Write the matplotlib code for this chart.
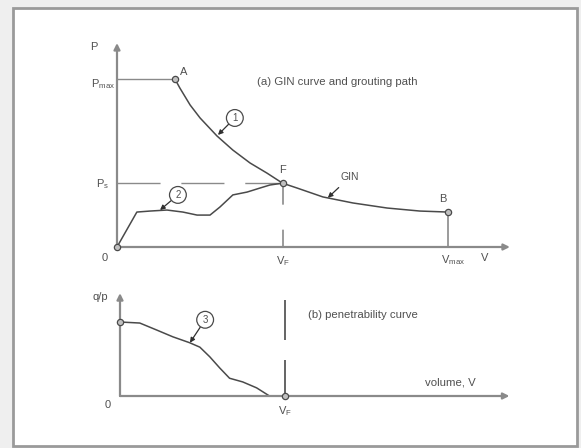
import matplotlib.pyplot as plt
from matplotlib.patches import Rectangle

plt.rcParams['font.family'] = ['Liberation Sans', 'DejaVu Sans']
plt.rcParams['mathtext.fontset'] = 'custom'
plt.rcParams['mathtext.rm'] = 'Liberation Sans'
plt.rcParams['mathtext.default'] = 'regular'

W, H = 581, 448

# (a) GIN curve: volume V vs pressure P (A -> F -> B)
gin_v = [1.75, 1.90, 2.21, 2.51, 3.02, 3.50, 4.02, 4.53, 5.00, 5.44, 6.22, 7.13, 8.16, 9.15, 10.0]
gin_p = [10.0, 9.46, 8.45, 7.68, 6.61, 5.77, 5.00, 4.40, 3.80, 3.51, 2.98, 2.62, 2.32, 2.14, 2.08]

# grouting path (curve 2), origin -> F
path_v = [0.0, 0.60, 1.00, 1.51, 1.99, 2.42, 2.81, 3.11, 3.50, 3.93, 4.32, 4.62, 5.00]
path_p = [0.0, 2.08, 2.14, 2.20, 2.08, 1.90, 1.90, 2.38, 3.10, 3.27, 3.51, 3.69, 3.80]

# (b) penetrability curve (curve 3)
pen_v = [0.0, 0.60, 1.12, 1.60, 2.11, 2.42, 2.72, 3.02, 3.32, 3.72, 4.14, 4.53]
pen_q = [1.0, 0.986, 0.89, 0.80, 0.72, 0.66, 0.53, 0.38, 0.24, 0.19, 0.11, 0.0]

V_F = 5.0
V_MAX = 10.0
P_MAX = 10.0
P_S = 3.8

AX_C = '#8a8a8a'
LN_C = '#4a4a4a'
TX_C = '#505050'


def make_axes(fig, x0, y0, sx, sy, box):
    # box in pixels (left, top, right, bottom); (x0, y0) = pixel of data origin
    l, t, r, b = box
    ax = fig.add_axes([l / W, 1 - b / H, (r - l) / W, (b - t) / H])
    ax.set_xlim((l - x0) / sx, (r - x0) / sx)
    ax.set_ylim((y0 - b) / sy, (y0 - t) / sy)
    ax.axis('off')
    return ax


def axis_arrows(ax, xend, yend):
    kw = dict(arrowstyle='-|>', color=AX_C, lw=1.6, mutation_scale=9, shrinkA=0, shrinkB=0)
    ax.annotate('', xy=(xend, 0), xytext=(0, 0), arrowprops=kw)
    ax.annotate('', xy=(0, yend), xytext=(0, 0), arrowprops=kw)


def marker(ax, x, y):
    ax.plot([x], [y], 'o', ms=4.5, mfc='#c0c0c0', mec=LN_C, mew=0.9, zorder=5, clip_on=False)


def circled(ax, label, xy, xytext):
    ax.annotate(label, xy=xy, xytext=xytext, ha='center', va='center', fontsize=7, color=TX_C,
                bbox=dict(boxstyle='circle,pad=0.35', fc='white', ec=LN_C, lw=0.9),
                arrowprops=dict(arrowstyle='-|>', color='#303030', lw=0.9, mutation_scale=7,
                                shrinkA=0, shrinkB=0))


fig = plt.figure(figsize=(W / 100, H / 100), dpi=100, facecolor='#efefef')
fig.patches.append(Rectangle((13 / W, 1 - 446 / H), (577 - 13) / W, (446 - 8) / H,
                             transform=fig.transFigure, fc='white', ec='#9a9a9a', lw=2,
                             zorder=-10))

# ---- (a) top panel ----
ax = make_axes(fig, 117, 247, 33.1, 16.8, (60, 30, 540, 275))
axis_arrows(ax, 11.87, 12.14)
ax.plot([0, gin_v[0]], [P_MAX, P_MAX], color=AX_C, lw=1.0)
ax.plot([0, V_F], [P_S, P_S], color=AX_C, lw=1.0, dashes=(31, 15))
ax.plot([V_F, V_F], [P_S, 0], color=AX_C, lw=1.2, dashes=(13, 15))
ax.plot([V_MAX, V_MAX], [gin_p[-1], 0], color=AX_C, lw=1.2)
ax.plot(gin_v, gin_p, color=LN_C, lw=1.1)
ax.plot(path_v, path_p, color=LN_C, lw=1.1)
marker(ax, gin_v[0], gin_p[0])
marker(ax, V_F, P_S)
marker(ax, gin_v[-1], gin_p[-1])
marker(ax, 0, 0)

circled(ax, '1', (3.05, 6.67), (3.56, 7.68))
circled(ax, '2', (1.30, 2.20), (1.84, 3.10))
ax.annotate('GIN', xy=(6.37, 2.93), xytext=(7.04, 4.17), ha='center', va='center', fontsize=7.5,
            color=TX_C, arrowprops=dict(arrowstyle='-|>', color='#303030', lw=0.9,
                                        mutation_scale=7, shrinkA=3, shrinkB=0))

tk = dict(color=TX_C, fontsize=8, clip_on=False)
ax.text(-0.7, 11.9, 'P', ha='center', va='center', **tk)
ax.text(-0.05, 9.7, 'P$_{max}$', ha='right', va='center', **tk)
ax.text(-0.25, 3.75, 'P$_s$', ha='right', va='center', **tk)
ax.text(1.9, 10.4, 'A', ha='left', va='center', **tk)
ax.text(V_F, 4.6, 'F', ha='center', va='center', **tk)
ax.text(9.85, 2.85, 'B', ha='center', va='center', **tk)
ax.text(-0.36, -0.65, '0', ha='center', va='center', **tk)
ax.text(V_F, -0.85, 'V$_F$', ha='center', va='center', **tk)
ax.text(10.15, -0.75, 'V$_{max}$', ha='center', va='center', **tk)
ax.text(11.1, -0.65, 'V', ha='center', va='center', **tk)
ax.text(4.23, 9.8, '(a) GIN curve and grouting path', ha='left', va='center', color=TX_C, fontsize=8.2)

# ---- (b) bottom panel ----
bx = make_axes(fig, 120, 396, 33.0, 74.0, (60, 280, 540, 425))
axis_arrows(bx, 11.8, 1.39)
bx.plot([V_F, V_F], [1.30, 0], color=LN_C, lw=1.2, dashes=(24, 12))
bx.plot(pen_v, pen_q, color=LN_C, lw=1.1)
marker(bx, pen_v[0], pen_q[0])
marker(bx, V_F, 0)
circled(bx, '3', (2.12, 0.72), (2.58, 1.03))

bx.text(-0.6, 1.34, 'q/p', ha='center', va='center', **tk)
bx.text(-0.36, -0.12, '0', ha='center', va='center', **tk)
bx.text(V_F, -0.2, 'V$_F$', ha='center', va='center', **tk)
bx.text(5.7, 1.1, '(b) penetrability curve', ha='left', va='center', color=TX_C, fontsize=8.2)
bx.text(10.0, 0.18, 'volume, V', ha='center', va='center', color=TX_C, fontsize=8.2)

fig.savefig('out.png', dpi=100, facecolor=fig.get_facecolor())
